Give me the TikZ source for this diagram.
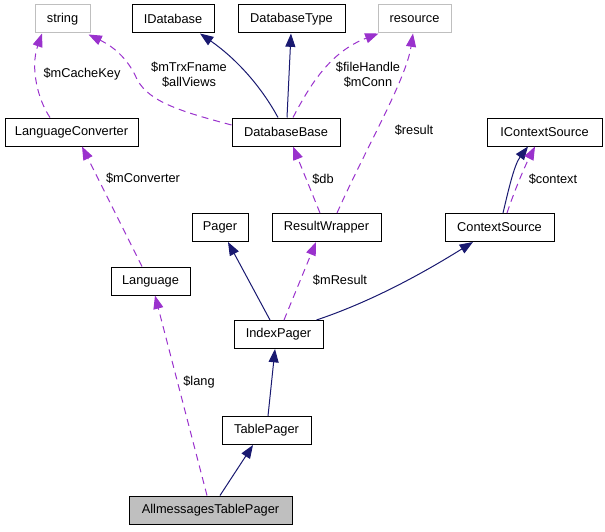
\documentclass[tikz,border=0pt]{standalone}
\usepackage{fontspec}
\setmainfont{Liberation Sans}
\usetikzlibrary{arrows.meta,calc}
\definecolor{navy}{HTML}{191970}
\definecolor{orchid}{HTML}{9A32CD}
\definecolor{greyb}{HTML}{BFBFBF}
\begin{document}
\begin{tikzpicture}[x=0.75pt,y=-0.75pt,
  every node/.style={font=\fontsize{9.6pt}{11.5pt}\selectfont},
  box/.style={draw=black,line width=0.75pt,minimum height=21pt,inner sep=0pt,fill=white},
  gbox/.style={box,draw=greyb},
  inh/.style={draw=navy,line width=0.75pt,-{Triangle[length=10pt,width=7.5pt]}},
  use/.style={draw=orchid,line width=0.75pt,dash pattern=on 5.25pt off 3.75pt,-{Triangle[length=10pt,width=7.5pt]}},
  lbl/.style={align=center,inner sep=0pt}]
\useasboundingbox (0,0) rectangle (605,531);
\node[gbox,minimum width=41.25pt] (str) at (62.5,19) {string};
\node[box,minimum width=61.5pt] (idb) at (173,19) {IDatabase};
\node[box,minimum width=80.25pt] (dt) at (291.5,19) {DatabaseType};
\node[gbox,minimum width=54.75pt] (res) at (414.5,19) {resource};
\node[box,minimum width=99.75pt] (lc) at (71.5,132) {LanguageConverter};
\node[box,minimum width=81pt] (db) at (286,132) {DatabaseBase};
\node[box,minimum width=86.25pt] (ics) at (544.5,132) {IContextSource};
\node[box,minimum width=42pt] (pg) at (220,227.5) {Pager};
\node[box,minimum width=81.75pt] (rw) at (326.5,227.5) {ResultWrapper};
\node[box,minimum width=81.75pt] (cs) at (499.5,227.5) {ContextSource};
\node[box,minimum width=59.25pt] (lang) at (150.5,281) {Language};
\node[box,minimum width=66.75pt] (ip) at (278.5,334.5) {IndexPager};
\node[box,minimum width=66.75pt] (tp) at (266.5,430.5) {TablePager};
\node[box,fill=greyb,minimum width=122.25pt] (atp) at (210.5,510) {AllmessagesTablePager};

% lc -> string
\draw[use] ($(lc.north)+(-21.5,0)$) .. controls (38,100) and (30,68) .. ($(str.south)+(-20.5,0)$);
\node[lbl] (l1) at (82,74) {\$mCacheKey};
% db -> string
\draw[use] ($(db.west)+(0,-7)$) .. controls (175,110) and (145,100) .. (135,75) .. controls (125,55) and (110,45) .. ($(str.south east)+(-2,1)$);
\node[lbl] (l2) at (189,75) {\$mTrxFname\\\$allViews};
% db -> IDatabase
\draw[inh] ($(db.north)+(-8,0)$) .. controls (262,88) and (238,60) .. ($(idb.south)+(27,0)$);
% db -> DatabaseType
\draw[inh] ($(db.north)+(1,0)$) -- ($(dt.south)+(-0.5,0)$);
% db -> resource
\draw[use] ($(db.north)+(7,0)$) .. controls (310,85) and (330,52) .. ($(res.south west)+(1,0)$);
\node[lbl] (l3) at (368,75) {\$fileHandle\\\$mConn};
% rw -> resource
\draw[use] ($(rw.north)+(10.5,0)$) .. controls (365,150) and (406,80) .. ($(res.south)+(-1.5,0)$);
\node[lbl] (l4) at (414,130) {\$result};
% rw -> db
\draw[use] ($(rw.north)+(-6.5,0)$) -- ($(db.south)+(7,0)$);
\node[lbl] (l5) at (323,179) {\$db};
% cs -> ics
\draw[inh] ($(cs.north)+(3.5,0)$) .. controls (508,192) and (514,165) .. ($(ics.south)+(-16.5,0)$);
\draw[use] ($(cs.north)+(7.5,0)$) .. controls (514,192) and (524,168) .. ($(ics.south)+(-9.5,0)$);
\node[lbl] (l6) at (553,179) {\$context};
% ip -> pager
\draw[inh] ($(ip.north)+(-8.5,0)$) -- ($(pg.south)+(8,0)$);
% ip -> rw
\draw[use] ($(ip.north)+(5.5,0)$) -- ($(rw.south)+(-10.5,0)$);
\node[lbl] (l7) at (340,280) {\$mResult};
% ip -> cs
\draw[inh] ($(ip.north east)+(-7,0)$) .. controls (370,302) and (420,275) .. ($(cs.south)+(-26.5,0)$);
% lang -> lc
\draw[use] ($(lang.north)+(-8.5,0)$) -- ($(lc.south)+(10.5,0)$);
\node[lbl] (l8) at (143,178) {\$mConverter};
% atp -> lang
\draw[use] ($(atp.north)+(-3.5,0)$) -- ($(lang.south)+(4.5,0)$);
\node[lbl] (l9) at (199,382) {\$lang};
% tp -> ip
\draw[inh] ($(tp.north)+(1.5,0)$) -- ($(ip.south)+(-3.5,0)$);
% atp -> tp
\draw[inh] ($(atp.north)+(9.5,0)$) -- ($(tp.south)+(-13.5,0)$);
\end{tikzpicture}
\end{document}
